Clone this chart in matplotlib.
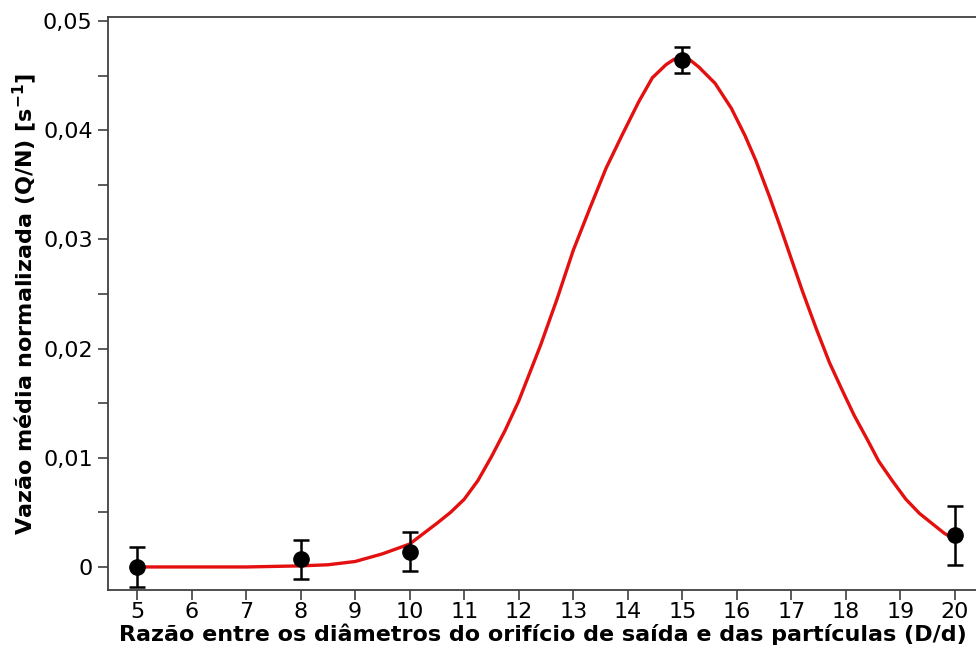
import matplotlib
matplotlib.use("Agg")
import matplotlib.pyplot as plt
from matplotlib.ticker import MultipleLocator, FuncFormatter

# measured points
x_pts = [5, 8, 10, 15, 20]
y_pts = [0.0000, 0.0007, 0.0014, 0.04643, 0.0029]
y_err = [0.0018, 0.0018, 0.0018, 0.0012, 0.0027]

# fitted curve
curve_x = [5, 6, 7, 8, 8.5, 9, 9.5, 10, 10.5, 10.75, 11, 11.25, 11.5, 11.75, 12,
           12.4, 12.7, 13, 13.3, 13.6, 13.9, 14.2, 14.45, 14.7, 14.85, 15, 15.15,
           15.3, 15.6, 15.9, 16.15, 16.35, 16.6, 16.8, 17.0, 17.2, 17.45, 17.7,
           17.95, 18.15, 18.4, 18.6, 18.85, 19.1, 19.35, 19.6, 19.8, 20]
curve_y = [0, 0, 0, 0.0001, 0.0002, 0.0005, 0.0012, 0.0021, 0.0040, 0.0050, 0.0062,
           0.0079, 0.0101, 0.0125, 0.0152, 0.0203, 0.0245, 0.0290, 0.0328, 0.0365,
           0.0396, 0.0426, 0.0448, 0.0460, 0.0465, 0.0466, 0.0464, 0.0458, 0.0443,
           0.0420, 0.0395, 0.0372, 0.0339, 0.0311, 0.0282, 0.0253, 0.0219, 0.0187,
           0.0160, 0.0139, 0.0116, 0.0097, 0.0079, 0.0062, 0.0049, 0.0039, 0.0031,
           0.0025]

x_ticks = list(range(5, 21))
y_ticks = [0, 0.01, 0.02, 0.03, 0.04, 0.05]

plt.rcParams['font.family'] = ['DejaVu Sans']

fig = plt.figure(figsize=(9.76, 6.64), dpi=100)
ax = fig.add_axes([108/976, 74/664, (977-108)/976, (590-17)/664])

ax.plot(curve_x, curve_y, color='#e41010', lw=2.4, zorder=2, solid_joinstyle='round')
ax.errorbar(x_pts, y_pts, yerr=y_err, fmt='o', color='black', ms=11,
            ecolor='black', elinewidth=1.8, capsize=6, capthick=1.8, zorder=3)

ax.set_xlim(4.468, 20.404)
ax.set_ylim(-0.00211, 0.05037)

ax.set_xticks(x_ticks)
ax.set_yticks(y_ticks)
ax.yaxis.set_minor_locator(MultipleLocator(0.005))

def yfmt(v, pos):
    if abs(v) < 1e-12:
        return '0'
    return ('%.2f' % v).replace('.', ',')
ax.yaxis.set_major_formatter(FuncFormatter(yfmt))

for s in ax.spines.values():
    s.set_color('#404040')
    s.set_linewidth(1.3)

ax.tick_params(axis='both', which='both', direction='out', length=7, width=1.2,
               color='#404040', labelsize=16)
ax.tick_params(axis='y', which='minor', length=7)
ax.tick_params(axis='x', pad=2)
ax.tick_params(axis='y', pad=4)

ax.set_xlabel('Razão entre os diâmetros do orifício de saída e das partículas (D/d)',
              fontsize=16, fontweight='bold', labelpad=1)
ax.set_ylabel(r'Vazão média normalizada (Q/N) [s$^{\mathbf{-1}}$]',
              fontsize=16, fontweight='bold', labelpad=3)

fig.savefig('out.png', dpi=100)
